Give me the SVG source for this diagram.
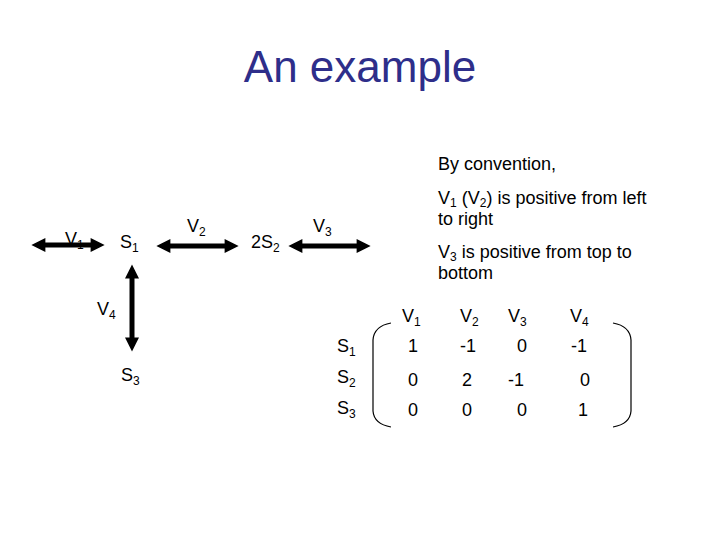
<svg xmlns="http://www.w3.org/2000/svg" width="720" height="540" viewBox="0 0 720 540">
<style>
text{font-family:"Liberation Sans",Arial,sans-serif;fill:#000}
.t{font-size:18px}
.s{font-size:12px}
.ln{stroke:#000;stroke-width:5;fill:none}
.br{stroke:#000;stroke-width:1.2;fill:none}
</style>
<defs>
<marker id="ah" viewBox="0 0 10 10" refX="6" refY="5" markerWidth="3.4" markerHeight="2.8" orient="auto-start-reverse" markerUnits="strokeWidth">
<path d="M0,0 L10,5 L0,10 z" fill="#000"/>
</marker>
</defs>
<rect width="720" height="540" fill="#fff"/>
<text x="360" y="82" font-size="44" text-anchor="middle" style="fill:#2e2e8a">An example</text>
<g id="connectors">
<line class="ln" x1="37" y1="245" x2="99" y2="245" marker-start="url(#ah)" marker-end="url(#ah)"/>
<line class="ln" x1="162" y1="246" x2="233" y2="246" marker-start="url(#ah)" marker-end="url(#ah)"/>
<line class="ln" x1="294" y1="246" x2="365" y2="246" marker-start="url(#ah)" marker-end="url(#ah)"/>
<line class="ln" x1="132" y1="270" x2="132" y2="346" marker-start="url(#ah)" marker-end="url(#ah)"/>
</g>
<g id="v1"><text class="t" x="65" y="245">V<tspan class="s" dy="4">1</tspan></text></g>
<g id="s1"><text class="t" x="120" y="248">S<tspan class="s" dy="4">1</tspan></text></g>
<g id="v2"><text class="t" x="187" y="232">V<tspan class="s" dy="4">2</tspan></text></g>
<g id="s2"><text class="t" x="251" y="248">2S<tspan class="s" dy="4">2</tspan></text></g>
<g id="v3"><text class="t" x="313" y="232">V<tspan class="s" dy="4">3</tspan></text></g>
<g id="v4"><text class="t" x="97" y="315">V<tspan class="s" dy="4">4</tspan></text></g>
<g id="s3"><text class="t" x="121" y="381">S<tspan class="s" dy="4">3</tspan></text></g>
<g id="notes">
<text class="t" x="438" y="170">By convention,</text>
<text class="t" x="438" y="204">V<tspan class="s" dy="3">1</tspan><tspan dy="-3"> (V</tspan><tspan class="s" dy="3">2</tspan><tspan dy="-3">) is positive from left</tspan></text>
<text class="t" x="438" y="225">to right</text>
<text class="t" x="438" y="258">V<tspan class="s" dy="3">3</tspan><tspan dy="-3"> is positive from top to</tspan></text>
<text class="t" x="438" y="279">bottom</text>
</g>
<g id="matrix">
<text class="t" x="402" y="322">V<tspan class="s" dy="4">1</tspan></text>
<text class="t" x="460" y="322">V<tspan class="s" dy="4">2</tspan></text>
<text class="t" x="508" y="322">V<tspan class="s" dy="4">3</tspan></text>
<text class="t" x="570" y="322">V<tspan class="s" dy="4">4</tspan></text>
<text class="t" x="337" y="352">S<tspan class="s" dy="4">1</tspan></text>
<text class="t" x="337" y="383">S<tspan class="s" dy="4">2</tspan></text>
<text class="t" x="337" y="414">S<tspan class="s" dy="4">3</tspan></text>
<g text-anchor="middle">
<text class="t" x="413" y="352">1</text><text class="t" x="468" y="352">-1</text><text class="t" x="522" y="352">0</text><text class="t" x="579" y="352">-1</text>
<text class="t" x="413" y="386">0</text><text class="t" x="467" y="386">2</text><text class="t" x="516" y="386">-1</text><text class="t" x="585" y="386">0</text>
<text class="t" x="413" y="416">0</text><text class="t" x="467" y="416">0</text><text class="t" x="522" y="416">0</text><text class="t" x="583" y="416">1</text>
</g>
<path class="br" d="M391,323 Q374,326 373,340 L373,411 Q374,424 391,427"/>
<path class="br" d="M613,323 Q630,326 631,340 L631,411 Q630,424 613,427"/>
</g>
</svg>
